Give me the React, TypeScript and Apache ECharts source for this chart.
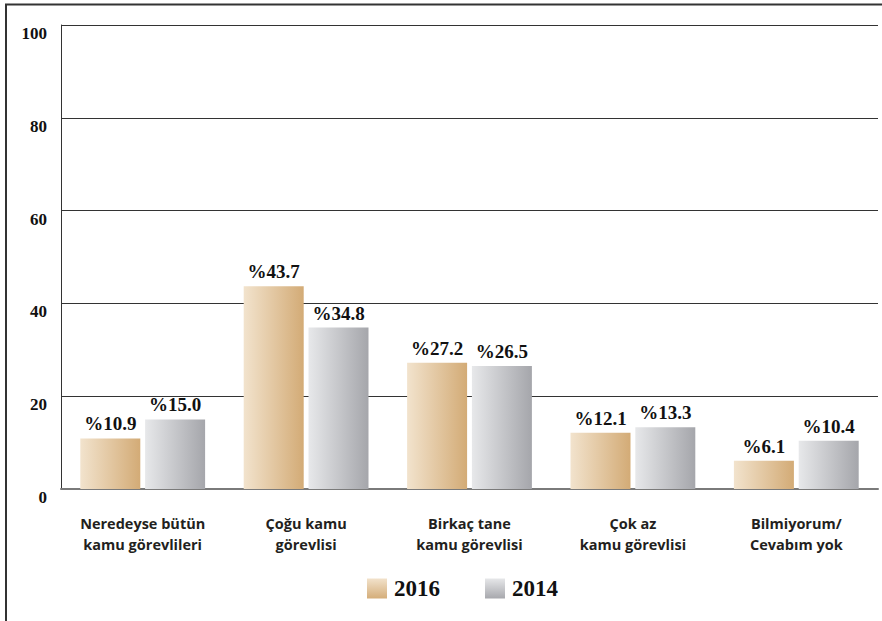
import React, { useEffect, useRef } from "react";
import * as echarts from "echarts";

const categories = [
  "Neredeyse bütün\nkamu görevlileri",
  "Çoğu kamu\ngörevlisi",
  "Birkaç tane\nkamu görevlisi",
  "Çok az\nkamu görevlisi",
  "Bilmiyorum/\nCevabım yok",
];
const values2016 = [10.9, 43.7, 27.2, 12.1, 6.1];
const values2014 = [15.0, 34.8, 26.5, 13.3, 10.4];
const seriesNames = ["2016", "2014"];

const hGrad = (a: string, b: string) =>
  new echarts.graphic.LinearGradient(0, 0, 1, 0, [
    { offset: 0, color: a },
    { offset: 1, color: b },
  ]);
const vGrad = (a: string, b: string) =>
  new echarts.graphic.LinearGradient(0, 0, 0, 1, [
    { offset: 0, color: a },
    { offset: 1, color: b },
  ]);

const serif = "'Liberation Serif', 'DejaVu Serif', serif";
const sans = "'Open Sans', 'Noto Sans', sans-serif";

export default function App() {
  const ref = useRef<HTMLDivElement>(null);
  useEffect(() => {
    if (!ref.current) return;
    const chart = echarts.init(ref.current, undefined, { renderer: "svg" });
    const label = {
      show: true,
      position: "top" as const,
      distance: 5,
      formatter: (p: any) => "%" + Number(p.value).toFixed(1),
      fontFamily: serif,
      fontWeight: "bold" as const,
      fontSize: 19,
      color: "#111",
    };
    chart.setOption({
      animation: false,
      backgroundColor: "#fff",
      grid: { left: 61, top: 25, right: 4, bottom: 132, containLabel: false },
      legend: {
        bottom: 16,
        left: 362,
        itemWidth: 20,
        itemHeight: 20,
        itemGap: 45,
        icon: "rect",
        textStyle: { fontFamily: serif, fontWeight: "bold", fontSize: 23, color: "#111", padding: [0, 0, 0, 2] },
        data: [
          { name: seriesNames[0], itemStyle: { color: vGrad("#f2e2cb", "#d4ad79") } },
          { name: seriesNames[1], itemStyle: { color: vGrad("#e6e7e9", "#a7a8ad") } },
        ],
      },
      xAxis: {
        type: "category",
        data: categories,
        axisLine: { lineStyle: { color: "#7a7a7a", width: 2 } },
        axisTick: { show: false },
        axisLabel: {
          margin: 24,
          fontFamily: sans,
          fontWeight: "bold",
          fontSize: 14.5,
          lineHeight: 21,
          color: "#231f20",
          interval: 0,
        },
      },
      yAxis: {
        type: "value",
        min: 0,
        max: 100,
        interval: 20,
        axisLine: { show: true, lineStyle: { color: "#333", width: 1 } },
        axisTick: { show: false },
        splitLine: { lineStyle: { color: "#333", width: 1 } },
        axisLabel: {
          margin: 14,
          verticalAlign: "top",
          fontFamily: serif,
          fontWeight: "bold",
          fontSize: 17,
          color: "#111",
        },
      },
      series: [
        {
          name: seriesNames[0],
          type: "bar",
          data: values2016,
          barWidth: 60,
          barGap: "8%",
          itemStyle: { color: hGrad("#f2e3cd", "#d3ab76") },
          label,
        },
        {
          name: seriesNames[1],
          type: "bar",
          data: values2014,
          barWidth: 60,
          barGap: "8%",
          itemStyle: { color: hGrad("#e7e8ea", "#a5a6ab") },
          label,
        },
      ],
      graphic: [
        {
          type: "rect",
          shape: { x: 6, y: 4.5, width: 1000, height: 1000 },
          style: { fill: "none", stroke: "#333", lineWidth: 2 },
          silent: true,
        },
      ],
    });
    return () => chart.dispose();
  }, []);
  return (
    <div
      ref={ref}
      style={{ position: "fixed", left: 0, top: 0, width: 882, height: 621 }}
    />
  );
}
